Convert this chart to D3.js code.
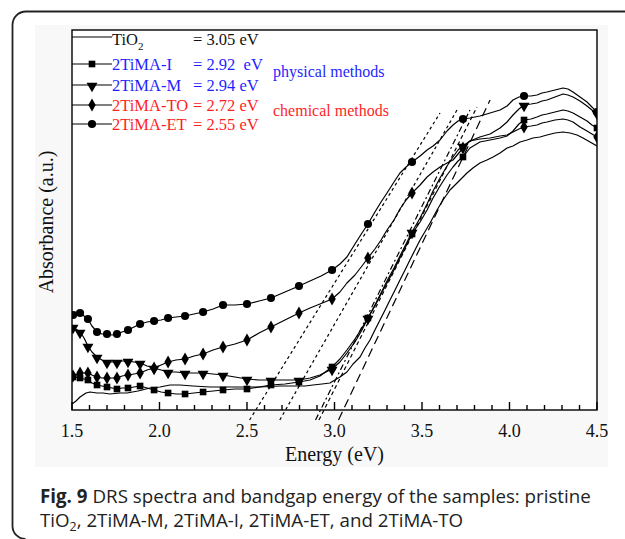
<!DOCTYPE html>
<html><head><meta charset="utf-8">
<script src="https://cdn.jsdelivr.net/npm/d3@7"></script>
<style>body{margin:0;background:#fff}svg{display:block}</style>
</head><body><svg id="c" width="625" height="539"></svg>
<script>
// ---------------- data ----------------
const energyTicks = [1.5, 2.0, 2.5, 3.0, 3.5, 4.0, 4.5];
const seriesNames = ["TiO2", "2TiMA-I", "2TiMA-M", "2TiMA-TO", "2TiMA-ET"];
const bandgapLabels = ["= 3.05 eV", "= 2.92  eV", "= 2.94 eV", "= 2.72 eV", "= 2.55 eV"];
const bandgaps = [3.05, 2.92, 2.94, 2.72, 2.55];
// upper end of each bandgap extrapolation line [energy, absorbance]
const tangentTops = [[3.889, 3.10], [3.774, 3.00], [3.814, 3.03], [3.70, 3.00], [3.603, 2.97]];
const tangentBottomA = -0.10;
const markerEnergies = [1.506, 1.546, 1.591, 1.643, 1.700, 1.757, 1.820, 1.889, 1.969, 2.049, 2.146,
  2.249, 2.363, 2.500, 2.637, 2.797, 2.986, 3.191, 3.443, 3.734, 4.083, 4.500];

const tio2 = [[1.500,0.06],[1.523,0.09],[1.546,0.13],[1.580,0.17],[1.603,0.18],[1.643,0.17],[1.677,0.17],
  [1.717,0.16],[1.774,0.17],[1.814,0.17],[1.877,0.19],[1.946,0.22],[2.003,0.23],[2.060,0.25],[2.117,0.25],
  [2.191,0.24],[2.289,0.23],[2.386,0.23],[2.489,0.23],[2.574,0.23],[2.689,0.24],[2.763,0.24],[2.831,0.24],
  [2.877,0.25],[2.929,0.26],[2.974,0.27],[3.031,0.33],[3.071,0.38],[3.106,0.46],[3.146,0.53],[3.174,0.62],
  [3.203,0.70],[3.231,0.80],[3.260,0.90],[3.289,1.00],[3.317,1.10],[3.346,1.20],[3.374,1.30],[3.403,1.40],
  [3.431,1.50],[3.489,1.70],[3.546,1.87],[3.586,2.00],[3.620,2.10],[3.660,2.20],[3.706,2.28],[3.757,2.37],
  [3.791,2.42],[3.831,2.47],[3.871,2.50],[3.906,2.53],[3.946,2.57],[3.986,2.62],[4.020,2.64],[4.060,2.68],
  [4.100,2.70],[4.134,2.72],[4.174,2.73],[4.214,2.75],[4.260,2.77],[4.306,2.78],[4.346,2.77],[4.386,2.75],
  [4.420,2.72],[4.460,2.68],[4.500,2.64]];

const tiMA_I = [[1.500,0.32],[1.506,0.33],[1.546,0.32],[1.591,0.30],[1.614,0.27],[1.643,0.25],[1.671,0.24],
  [1.700,0.23],[1.729,0.22],[1.757,0.21],[1.786,0.22],[1.820,0.22],[1.854,0.23],[1.889,0.24],[1.929,0.22],
  [1.969,0.20],[2.009,0.18],[2.049,0.17],[2.094,0.16],[2.146,0.16],[2.197,0.17],[2.249,0.18],[2.306,0.19],
  [2.363,0.20],[2.431,0.21],[2.500,0.21],[2.569,0.23],[2.637,0.25],[2.717,0.26],[2.797,0.28],[2.860,0.30],
  [2.917,0.34],[2.986,0.43],[3.031,0.51],[3.071,0.60],[3.117,0.71],[3.157,0.82],[3.191,0.92],[3.231,1.04],
  [3.266,1.16],[3.300,1.27],[3.340,1.40],[3.374,1.52],[3.409,1.64],[3.443,1.76],[3.489,1.88],[3.529,2.00],
  [3.563,2.12],[3.603,2.24],[3.643,2.35],[3.677,2.43],[3.706,2.49],[3.734,2.53],[3.774,2.62],[3.831,2.68],
  [3.889,2.70],[3.946,2.72],[3.986,2.74],[4.020,2.79],[4.054,2.86],[4.083,2.90],[4.123,2.91],[4.157,2.93],
  [4.186,2.95],[4.214,2.96],[4.260,2.98],[4.306,3.00],[4.334,2.99],[4.363,2.97],[4.403,2.93],[4.443,2.89],
  [4.471,2.85],[4.500,2.82]];

const tiMA_M = [[1.500,0.85],[1.506,0.83],[1.546,0.78],[1.569,0.72],[1.591,0.64],[1.614,0.58],[1.643,0.53],
  [1.671,0.50],[1.700,0.48],[1.729,0.48],[1.757,0.48],[1.786,0.49],[1.820,0.49],[1.854,0.48],[1.889,0.47],
  [1.929,0.44],[1.969,0.42],[2.009,0.40],[2.049,0.38],[2.094,0.38],[2.146,0.37],[2.197,0.37],[2.249,0.37],
  [2.306,0.36],[2.363,0.35],[2.431,0.33],[2.500,0.31],[2.569,0.30],[2.637,0.30],[2.717,0.30],[2.797,0.30],
  [2.860,0.32],[2.917,0.35],[2.986,0.41],[3.031,0.48],[3.071,0.57],[3.117,0.68],[3.157,0.80],[3.191,0.92],
  [3.231,1.05],[3.266,1.17],[3.300,1.29],[3.340,1.42],[3.374,1.54],[3.409,1.66],[3.443,1.78],[3.489,1.92],
  [3.529,2.06],[3.563,2.19],[3.603,2.32],[3.643,2.44],[3.677,2.53],[3.706,2.60],[3.734,2.64],[3.774,2.69],
  [3.831,2.73],[3.889,2.76],[3.946,2.82],[3.986,2.88],[4.020,2.95],[4.054,3.01],[4.083,3.05],[4.123,3.06],
  [4.157,3.07],[4.186,3.09],[4.214,3.10],[4.260,3.13],[4.306,3.16],[4.334,3.15],[4.363,3.13],[4.403,3.09],
  [4.443,3.04],[4.471,3.00],[4.500,2.97]];

const tiMA_TO = [[1.500,0.33],[1.506,0.34],[1.546,0.37],[1.591,0.37],[1.614,0.35],[1.643,0.33],[1.671,0.32],
  [1.700,0.32],[1.729,0.32],[1.757,0.32],[1.786,0.34],[1.820,0.35],[1.854,0.36],[1.889,0.37],[1.929,0.40],
  [1.969,0.42],[2.009,0.45],[2.049,0.48],[2.094,0.50],[2.146,0.51],[2.197,0.54],[2.249,0.56],[2.306,0.60],
  [2.363,0.63],[2.431,0.66],[2.500,0.70],[2.569,0.77],[2.637,0.83],[2.717,0.90],[2.797,0.97],[2.860,1.02],
  [2.917,1.06],[2.986,1.11],[3.031,1.18],[3.071,1.27],[3.117,1.35],[3.157,1.44],[3.191,1.52],[3.231,1.61],
  [3.266,1.70],[3.300,1.80],[3.340,1.90],[3.374,2.01],[3.409,2.10],[3.443,2.17],[3.489,2.25],[3.529,2.33],
  [3.563,2.38],[3.603,2.43],[3.643,2.47],[3.677,2.50],[3.706,2.56],[3.734,2.62],[3.774,2.69],[3.831,2.71],
  [3.889,2.72],[3.946,2.74],[3.986,2.75],[4.020,2.78],[4.054,2.81],[4.083,2.83],[4.123,2.84],[4.157,2.85],
  [4.186,2.87],[4.214,2.88],[4.260,2.90],[4.306,2.91],[4.334,2.90],[4.363,2.88],[4.403,2.83],[4.443,2.79],
  [4.471,2.76],[4.500,2.73]];

const tiMA_ET = [[1.500,0.92],[1.506,0.95],[1.523,0.98],[1.546,0.97],[1.569,0.94],[1.591,0.91],[1.614,0.84],
  [1.643,0.78],[1.671,0.76],[1.700,0.76],[1.729,0.75],[1.757,0.76],[1.786,0.78],[1.820,0.80],[1.854,0.83],
  [1.889,0.86],[1.929,0.88],[1.969,0.89],[2.009,0.90],[2.049,0.92],[2.094,0.93],[2.146,0.94],[2.197,0.96],
  [2.249,0.98],[2.306,1.01],[2.363,1.05],[2.431,1.05],[2.500,1.06],[2.569,1.09],[2.637,1.12],[2.717,1.18],
  [2.797,1.24],[2.860,1.29],[2.923,1.34],[2.986,1.40],[3.031,1.46],[3.071,1.53],[3.117,1.66],[3.157,1.77],
  [3.191,1.86],[3.231,1.98],[3.266,2.08],[3.300,2.17],[3.340,2.28],[3.374,2.37],[3.409,2.43],[3.443,2.48],
  [3.489,2.54],[3.529,2.60],[3.563,2.64],[3.603,2.70],[3.643,2.79],[3.677,2.85],[3.706,2.89],[3.734,2.91],
  [3.774,2.92],[3.831,2.94],[3.889,2.97],[3.946,3.00],[3.986,3.04],[4.020,3.10],[4.054,3.13],[4.083,3.14],
  [4.123,3.14],[4.157,3.15],[4.186,3.17],[4.214,3.18],[4.260,3.20],[4.306,3.22],[4.334,3.21],[4.363,3.18],
  [4.403,3.13],[4.443,3.08],[4.471,3.03],[4.500,2.98]];

const seriesData = [tio2, tiMA_I, tiMA_M, tiMA_TO, tiMA_ET];
const seriesMarkers = [null, "square", "triangleDown", "diamond", "circle"];
const labelColors = ["#111", "#1f1fff", "#1f1fff", "#ff1f1f", "#ff1f1f"];
const dashes = ["9,5", "6,3,2,3", "4,3", "3,3", "3,3"];
const captionBold = "Fig. 9";
const captionLine1 = "DRS spectra and bandgap energy of the samples: pristine";
const captionLine2 = ", 2TiMA-M, 2TiMA-I, 2TiMA-ET, and 2TiMA-TO";

// ---------------- layout ----------------
const W = 625, H = 539;
const L = 72, R = 597, T = 30, B = 410;
const svg = d3.select("#c");
const serif = "'Liberation Serif','Times New Roman',serif";

// outer rounded frame
svg.append("path")
  .attr("d", `M${W},11.5H26A13.5,13.5 0 0 0 12.5,25V526A13,13 0 0 0 25.5,539`)
  .attr("fill", "none").attr("stroke", "#222").attr("stroke-width", 1.8);
// light panel behind the figure
svg.append("rect").attr("x", 35).attr("y", 25).attr("width", 573).attr("height", 442).attr("fill", "#f8f8f8");
svg.append("rect").attr("x", L).attr("y", T).attr("width", R - L).attr("height", B - T).attr("fill", "#fff");

const x = d3.scaleLinear().domain([1.5, 4.5]).range([L, R]);
const y = d3.scaleLinear().domain([0, 3.8]).range([B, T]);

svg.append("defs").append("clipPath").attr("id", "clip")
  .append("rect").attr("x", L).attr("y", T).attr("width", R - L).attr("height", B - T);

const plot = svg.append("g").attr("clip-path", "url(#clip)");
const line = d3.line().x(d => x(d[0])).y(d => y(d[1]));

// bandgap extrapolation lines
const tg = svg.append("g");
bandgaps.forEach((eg, i) => {
  const top = tangentTops[i];
  const slope = top[1] / (top[0] - eg);
  const bottom = [eg + tangentBottomA / slope, tangentBottomA];
  tg.append("path").attr("d", line([bottom, top]))
    .attr("fill", "none").attr("stroke", "#000").attr("stroke-width", 1.2)
    .attr("stroke-dasharray", dashes[i]);
});

// spectra
seriesData.forEach((s, i) => {
  plot.append("path").attr("d", line(s)).attr("fill", "none")
    .attr("stroke", "#000").attr("stroke-width", 1.2).attr("stroke-linejoin", "round");
});

function symbolPath(kind) {
  if (kind === "square") return d3.symbol(d3.symbolSquare, 44)();
  if (kind === "triangleDown") return d3.symbol(d3.symbolTriangle, 52)();
  if (kind === "diamond") return d3.symbol(d3.symbolDiamond, 48)();
  return d3.symbol(d3.symbolCircle, 52)();
}
function symbolTransform(kind, px, py) {
  return kind === "triangleDown" ? `translate(${px},${py + 1}) rotate(180)` : `translate(${px},${py})`;
}

seriesData.forEach((s, i) => {
  const kind = seriesMarkers[i];
  if (!kind) return;
  markerEnergies.forEach(e => {
    const p = s.reduce((a, b) => Math.abs(b[0] - e) < Math.abs(a[0] - e) ? b : a);
    plot.append("path").attr("d", symbolPath(kind))
      .attr("transform", symbolTransform(kind, x(p[0]), y(p[1])))
      .attr("fill", "#000");
  });
});

// axis frame
svg.append("rect").attr("x", L).attr("y", T).attr("width", R - L).attr("height", B - T)
  .attr("fill", "none").attr("stroke", "#000").attr("stroke-width", 1.4);

// x axis (ticks point inward)
const minor = d3.range(15, 46).map(v => v / 10);
const xa = svg.append("g");
xa.selectAll("line.mn").data(minor).join("line")
  .attr("x1", d => x(d)).attr("x2", d => x(d))
  .attr("y1", B).attr("y2", d => energyTicks.some(t => Math.abs(t - d) < 1e-6) ? B - 8 : B - 5)
  .attr("stroke", "#000").attr("stroke-width", 1.4);
xa.selectAll("text").data(energyTicks).join("text")
  .attr("x", d => x(d)).attr("y", 437).attr("text-anchor", "middle")
  .attr("font-family", serif).attr("font-size", 18).attr("fill", "#111")
  .text(d => d.toFixed(1));

svg.append("text").attr("x", (L + R) / 2).attr("y", 461).attr("text-anchor", "middle")
  .attr("font-family", serif).attr("font-size", 20).attr("fill", "#111").text("Energy (eV)");
svg.append("text").attr("transform", `translate(53,${(T + B) / 2 + 2}) rotate(-90)`)
  .attr("text-anchor", "middle").attr("font-family", serif).attr("font-size", 20)
  .attr("fill", "#111").text("Absorbance (a.u.)");

// legend
const rowsY = [37, 64, 85, 105, 124];
const lg = svg.append("g");
seriesNames.forEach((name, i) => {
  const ry = rowsY[i];
  lg.append("line").attr("x1", L).attr("x2", 112).attr("y1", ry).attr("y2", ry)
    .attr("stroke", "#000").attr("stroke-width", 1.2);
  const kind = seriesMarkers[i];
  if (kind) lg.append("path").attr("d", symbolPath(kind))
    .attr("transform", symbolTransform(kind, 92, ry)).attr("fill", "#000");
  const t = lg.append("text").attr("x", 112).attr("y", ry + (i === 0 ? 8 : 6))
    .attr("font-family", serif).attr("font-size", 16.5).attr("fill", labelColors[i]);
  if (name === "TiO2") {
    t.append("tspan").text("TiO");
    t.append("tspan").attr("dy", 5).attr("font-size", 11).text("2");
  } else t.text(name);
  lg.append("text").attr("x", 193).attr("y", ry + (i === 0 ? 8 : 6))
    .attr("font-family", serif).attr("font-size", 16.5).attr("fill", labelColors[i])
    .attr("xml:space", "preserve").style("white-space", "pre").text(bandgapLabels[i]);
});
lg.append("text").attr("x", 273).attr("y", 77).attr("font-family", serif).attr("font-size", 16)
  .attr("fill", "#1f1fff").text("physical methods");
lg.append("text").attr("x", 273).attr("y", 116).attr("font-family", serif).attr("font-size", 16)
  .attr("fill", "#ff1f1f").text("chemical methods");

// caption (font size fitted so line 1 spans the reference width)
const sans = "'Open Sans','Noto Sans',sans-serif";
const cap = svg.append("g").attr("font-family", sans).attr("fill", "#222");
const cb = cap.append("text").attr("x", 40).attr("y", 503).attr("font-weight", "bold").text(captionBold);
const ct = cap.append("text").attr("y", 503).text(captionLine1);
let fs = 17;
cb.attr("font-size", fs); ct.attr("font-size", fs);
const gap0 = fs * 0.27;
const w0 = cb.node().getComputedTextLength() + gap0 + ct.node().getComputedTextLength();
fs = Math.min(20, fs * 551 / w0);
cb.attr("font-size", fs); ct.attr("font-size", fs);
ct.attr("x", 40 + cb.node().getComputedTextLength() + fs * 0.27);
const ta = cap.append("text").attr("x", 40).attr("y", 527).attr("font-size", fs).text("TiO");
const taw = ta.node().getComputedTextLength();
const ts = cap.append("text").attr("x", 40 + taw).attr("y", 531).attr("font-size", fs * 0.66).text("2");
const tsw = ts.node().getComputedTextLength();
cap.append("text").attr("x", 40 + taw + tsw).attr("y", 527).attr("font-size", fs).text(captionLine2);
</script></body></html>
